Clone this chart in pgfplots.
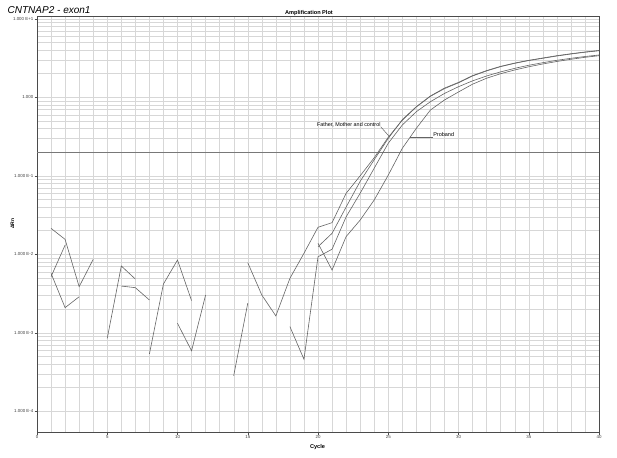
\documentclass[border=0pt]{standalone}
\usepackage{pgfplots}
\usepackage{pgfplotstable}
\pgfplotsset{compat=1.18}
\usepackage{fontspec}
\setmainfont{Liberation Sans}

\definecolor{trace}{RGB}{100,100,100}
\definecolor{gridc}{RGB}{215,215,215}
\definecolor{frame}{RGB}{75,75,75}
\definecolor{thresh}{RGB}{120,120,120}

% Delta Rn per cycle, nan where the value was not positive
\pgfplotstableread{
cycle s1      s2      s3       s4
1     0.0214  0.00519 0.00573  nan
2     0.0155  0.0131  0.00209  nan
3     0.00387 nan     0.00288  nan
4     0.00863 nan     nan      nan
5     nan     0.00085 nan      nan
6     0.00394 0.0071  nan      nan
7     0.00376 0.00484 nan      nan
8     0.00262 nan     0.000537 nan
9     nan     nan     0.00419  nan
10    0.00132 nan     0.00846  nan
11    0.00059 nan     0.00257  nan
12    0.00303 nan     nan      nan
13    nan     nan     nan      nan
14    nan     nan     0.000284 nan
15    0.00782 nan     0.00238  nan
16    0.00303 nan     nan      nan
17    0.00164 nan     nan      nan
18    0.00494 0.0012  nan      nan
19    0.0103  0.00046 nan      nan
20    0.0221  0.0093  0.0138   0.0125
21    0.0253  0.0116  0.0063   0.0185
22    0.0598  0.0300  0.0168   0.040
23    0.100   0.060   0.0273   0.085
24    0.170   0.125   0.0492   0.160
25    0.310   0.26    0.102    0.300
26    0.510   0.444   0.224    0.520
27    0.755   0.656   0.403    0.760
28    1.03    0.879   0.689    1.04
29    1.29    1.12    0.924    1.31
30    1.53    1.365   1.17     1.55
31    1.87    1.62    1.47     1.89
32    2.17    1.87    1.75     2.19
33    2.46    2.11    2.00     2.48
34    2.71    2.34    2.23     2.73
35    2.94    2.56    2.45     2.96
36    3.14    2.76    2.66     3.17
37    3.36    2.96    2.86     3.39
38    3.56    3.14    3.05     3.59
39    3.75    3.31    3.23     3.78
40    3.92    3.46    3.39     3.95
}\rn

\begin{document}
\begin{tikzpicture}[x=1pt,y=1pt]
\path (0,0) rectangle (617,457);
\begin{axis}[
    at={(37pt,25pt)}, anchor=south west,
    scale only axis, width=562pt, height=416pt,
    xmin=0, xmax=40,
    ymode=log, ymin=5.45e-5, ymax=10.86,
    xtick={0,5,...,40}, minor xtick={0,...,40},
    ytick={1e-4,1e-3,1e-2,1e-1,1,10},
    yticklabels={1.000 E-4,1.000 E-3,1.000 E-2,1.000 E-1,1.000,1.000 E+1},
    xticklabel style={/pgf/number format/assume math mode=true},
    grid=both,
    major grid style={draw=gridc, line width=0.4pt},
    minor grid style={draw=gridc, line width=0.4pt},
    axis line style={draw=frame, line width=0.8pt},
    tick pos=left, tick align=outside,
    major tick length=2.5pt, minor tick length=0pt,
    tick style={draw=frame, line width=0.4pt},
    tick label style={font=\fontsize{4.4}{5}\selectfont, text=black!75, inner sep=1pt},
    unbounded coords=jump,
    clip=false,
  ]
  \addplot[thresh, line width=1.1pt] coordinates {(0,0.2) (40,0.2)};
  \addplot[trace, line width=0.6pt] table[x=cycle, y=s1] {\rn};
  \addplot[trace, line width=0.6pt] table[x=cycle, y=s4] {\rn};
  \addplot[trace, line width=0.6pt] table[x=cycle, y=s2] {\rn};
  \addplot[trace, line width=0.6pt] table[x=cycle, y=s3] {\rn};

  \draw[trace, line width=0.5pt] (axis cs:24.46,0.422) -- (axis cs:25.12,0.31);
  \draw[trace, line width=0.5pt] (axis cs:26.55,0.31) -- (axis cs:28.19,0.31);
  \node[anchor=base east, inner sep=0pt, font=\fontsize{5.4}{6}\selectfont]
    at (axis cs:24.46,0.431) {Father, Mother and control};
  \node[anchor=base west, inner sep=0pt, font=\fontsize{5.5}{6}\selectfont]
    at (axis cs:28.19,0.315) {Proband};
\end{axis}
\node[anchor=base west, inner sep=0pt, font=\itshape\fontsize{10}{12}\selectfont]
  at (7.5,443.7) {CNTNAP2 - exon1};
\node[anchor=base, inner sep=0pt, font=\bfseries\fontsize{5.6}{6}\selectfont]
  at (309,442) {Amplification Plot};
\node[anchor=base, inner sep=0pt, font=\bfseries\fontsize{5.6}{6}\selectfont]
  at (317.5,9) {Cycle};
\node[rotate=90, inner sep=0pt, font=\bfseries\fontsize{5}{6}\selectfont]
  at (12.5,233.5) {ΔRn};
\end{tikzpicture}
\end{document}
